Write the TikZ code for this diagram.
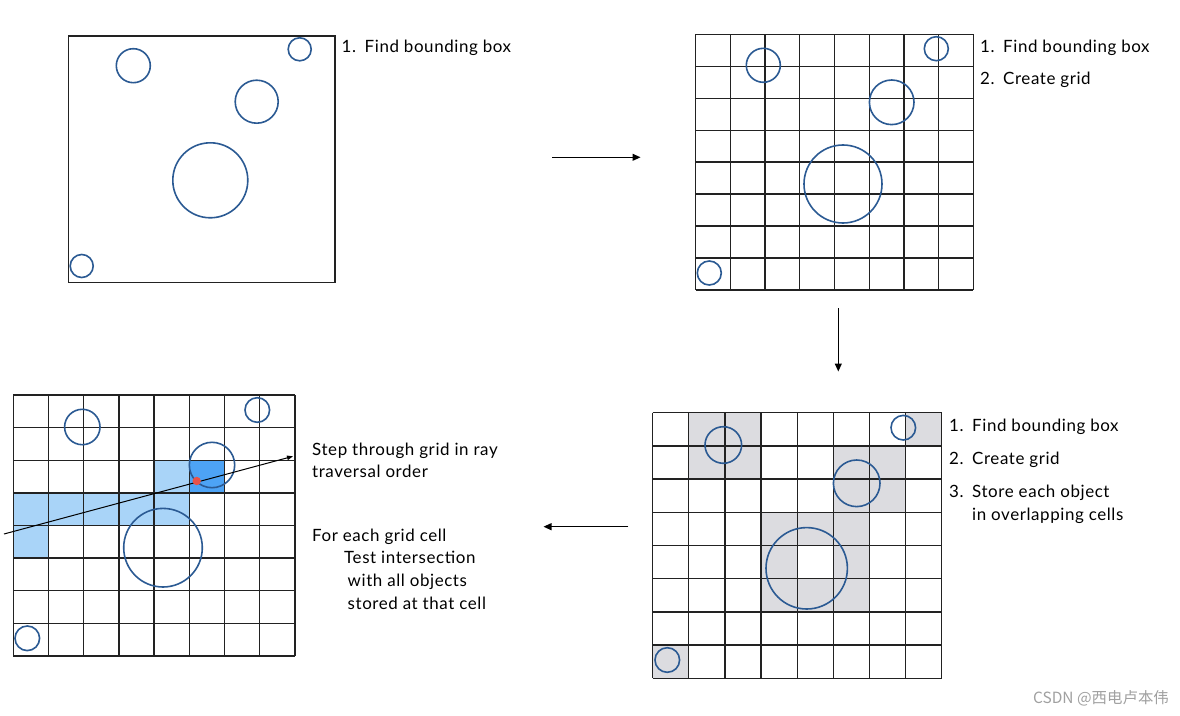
\documentclass[tikz,border=0pt]{standalone}
\usepackage{fontspec}
\setmainfont{Lato}[LetterSpace=3.5]
\newfontfamily\cjkfont{Noto Sans CJK SC}
\usetikzlibrary{arrows.meta}
\definecolor{circblue}{HTML}{2B5A93}
\definecolor{gridline}{HTML}{222222}
\definecolor{cellgray}{HTML}{DCDCE0}
\definecolor{lightblue}{HTML}{A9D4F8}
\definecolor{darkblue}{HTML}{4DA3F5}
\definecolor{dotred}{HTML}{E8524A}
\definecolor{wmgray}{HTML}{A0A0A0}
\tikzset{
  obj/.style={draw=circblue, line width=1.6bp},
  gridl/.style={draw=gridline, line width=1.3bp},
  flow/.style={draw=black, line width=1.1bp, -{Triangle[length=8bp,width=7bp]}},
  lbl/.style={anchor=base west, inner sep=0pt, font=\fontsize{17}{20}\selectfont},
}
\newcommand{\itm}[1]{\makebox[23bp][l]{#1}}
\begin{document}
\begin{tikzpicture}[x=1bp,y=-1bp]
\useasboundingbox[fill=white] (0,0) rectangle (1180,716);

% ---------- Panel 1 ----------
\draw[gridl] (68.3,36) rectangle (335,282.3);
\draw[obj] (133.3,65.7) circle[radius=17bp];
\draw[obj] (299.7,49.3) circle[radius=11.5bp];
\draw[obj] (256.7,101.7) circle[radius=21.5bp];
\draw[obj] (210.3,180.3) circle[radius=37.5bp];
\draw[obj] (81.7,266) circle[radius=11.5bp];
\node[lbl] (t1a) at (341.5,53) {\itm{1.}Find bounding box};

% ---------- Panel 2 ----------
\foreach \i in {0,...,8} {
  \draw[gridl] (695.7+\i*34.7,34.3) -- (695.7+\i*34.7,290);
  \draw[gridl] (695.7,34.3+\i*31.96) -- (973.3,34.3+\i*31.96);
}
\draw[obj] (763.3,65.3) circle[radius=17bp];
\draw[obj] (936.3,48.7) circle[radius=12bp];
\draw[obj] (891.7,102.3) circle[radius=22.3bp];
\draw[obj] (843,184) circle[radius=39bp];
\draw[obj] (709.3,273) circle[radius=12bp];
\node[lbl] (t2a) at (980,53) {\itm{1.}Find bounding box};
\node[lbl] (t2b) at (980,85) {\itm{2.}Create grid};

% ---------- Panel 3 ----------
\foreach \c/\r in {1/0,2/0,7/0,1/1,2/1,5/1,6/1,5/2,6/2,3/3,4/3,5/3,3/4,5/4,3/5,4/5,5/5,0/7}
  \fill[cellgray] (652.7+\c*36.125,412.7+\r*33.2) rectangle ++(36.125,33.2);
\foreach \i in {0,...,8} {
  \draw[gridl] (652.7+\i*36.125,412.7) -- (652.7+\i*36.125,678.3);
  \draw[gridl] (652.7,412.7+\i*33.2) -- (941.7,412.7+\i*33.2);
}
\draw[obj] (723.3,445) circle[radius=18.3bp];
\draw[obj] (903.3,427.7) circle[radius=12.3bp];
\draw[obj] (856.7,483.3) circle[radius=23.3bp];
\draw[obj] (806.7,568.3) circle[radius=40.7bp];
\draw[obj] (667.3,660) circle[radius=12.3bp];
\node[lbl] (t3a) at (949,431) {\itm{1.}Find bounding box};
\node[lbl] (t3b) at (949,464) {\itm{2.}Create grid};
\node[lbl] (t3c) at (949,497) {\itm{3.}Store each object};
\node[lbl] (t3d) at (972,520) {in overlapping cells};

% ---------- Panel 4 ----------
\foreach \c/\r in {4/2,0/3,1/3,2/3,3/3,4/3,0/4}
  \fill[lightblue] (13.3+\c*35.21,395+\r*32.625) rectangle ++(35.21,32.625);
\fill[darkblue] (13.3+5*35.21,395+2*32.625) rectangle ++(35.21,32.625);
\foreach \i in {0,...,8} {
  \draw[gridl] (13.3+\i*35.21,395) -- (13.3+\i*35.21,656);
  \draw[gridl] (13.3,395+\i*32.625) -- (295,395+\i*32.625);
}
\draw[obj] (82.3,427) circle[radius=17.7bp];
\draw[obj] (257.3,410) circle[radius=12.3bp];
\draw[obj] (212,465) circle[radius=22.7bp];
\draw[obj] (163,547.7) circle[radius=39.3bp];
\draw[obj] (27.3,638.3) circle[radius=12.3bp];
\coordinate (rs) at (4,534);
\coordinate (re) at (293,456.3);
\draw[black, line width=1bp, -{Triangle[length=6bp,width=4.5bp]}] (rs) -- (re);
\fill[dotred] (196.7,481) circle[radius=4.2bp];
\node[lbl] (t4a) at (312,455) {Step through grid in ray};
\node[lbl] (t4b) at (312,477) {traversal order};
\node[lbl] (t4c) at (312,541) {For each grid cell};
\node[lbl] (t4d) at (344,563.5) {Test intersection};
\node[lbl] (t4e) at (347.5,586.5) {with all objects};
\node[lbl] (t4f) at (347.5,609.5) {stored at that cell};

% ---------- Flow arrows ----------
\coordinate (a1s) at (552.3,157.3);
\coordinate (a1e) at (640.5,157.3);
\coordinate (a2s) at (838.3,308);
\coordinate (a2e) at (838.3,371.5);
\coordinate (a3s) at (628.3,526.7);
\coordinate (a3e) at (543.5,526.7);
\draw[flow] (a1s) -- (a1e);
\draw[flow] (a2s) -- (a2e);
\draw[flow] (a3s) -- (a3e);

% ---------- Watermark ----------
\node[anchor=base west, inner sep=0pt, text=wmgray, font=\cjkfont\fontsize{15.5}{18}\selectfont] (wm) at (1033,703) {CSDN @西电卢本伟};
\end{tikzpicture}
\end{document}
